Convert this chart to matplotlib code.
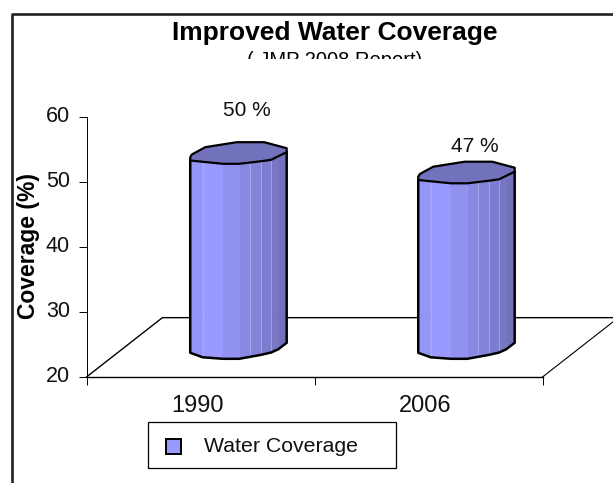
"""Improved water coverage, 1990 vs 2006, drawn as a faux-3D cylinder bar chart."""

import matplotlib
matplotlib.use("Agg")
import matplotlib.pyplot as plt
import numpy as np
from matplotlib.patches import Polygon, Rectangle
from matplotlib.transforms import Bbox, ScaledTranslation

plt.rcParams["font.family"] = ["Liberation Sans", "DejaVu Sans"]

years = ["1990", "2006"]
coverage = [50, 47]
yticks = [20, 30, 40, 50, 60]
label_lift = [11.0, 8.5]

# cylinder facets: edge position across the bar, and how far the top and
# bottom rims sit above the lowest rim point (pixels)
PX_PER_UNIT = 6.5
facet_edges = [0, .13, .34, .508, .622, .736, .839, .912, 1]
top_rim = [3.3, 2, 0, 0, 1.3, 2.6, 4, 7.5, 11.6]
bottom_rim = [6, 1.5, 0, 0, 2, 4, 6.3, 9.5, 16]
facet_colors = ["#9595F6", "#9999FF", "#9191F0", "#8989E3",
                "#8383D9", "#7D7DCF", "#7777C6", "#7171BC"]
highlight_edges = [1, 4, 5, 6]

cap_x = [0, 0, .017, .155, .482, .767, 1, 1]
cap_y = [3.3, 6.6, 9.3, 16.6, 21.6, 21.6, 15.6, 11.6]
CAP_COLOR = "#7272BC"
BAR_WIDTH = 0.423
DEPTH_X = 0.333
DEPTH_Y = 9.13
FRONT_LIFT = 2.8

fig = plt.figure(figsize=(6.13, 4.83), dpi=100)
W, H = 613, 483
ax = fig.add_axes([86.5 / W, (H - 377) / H, 456 / W, 260 / H])
ax.patch.set_visible(False)
ax.set_xlim(0, 2)
ax.set_ylim(20, 60)

# outer frame, open on the right and at the bottom
fig.add_artist(plt.Line2D([11.5 / W, 11.5 / W, 1], [0, (H - 13.5) / H, (H - 13.5) / H],
                          color="#222222", lw=1.9))

# floor of the plot
ax.plot([0, DEPTH_X, 2 + DEPTH_X], [20, 20 + DEPTH_Y, 20 + DEPTH_Y],
        color="black", lw=1.0, clip_on=False, zorder=1)
ax.plot([2, 2 + DEPTH_X], [20, 20 + DEPTH_Y], color="black", lw=0.8, clip_on=False, zorder=1)

for i, value in enumerate(coverage):
    left = i + 0.5 + DEPTH_X / 2 - BAR_WIDTH / 2
    xs = left + np.array(facet_edges) * BAR_WIDTH
    ys_top = value + FRONT_LIFT + np.array(top_rim) / PX_PER_UNIT
    ys_bottom = 20 + FRONT_LIFT + np.array(bottom_rim) / PX_PER_UNIT

    for k, color in enumerate(facet_colors):
        ax.add_patch(Polygon([(xs[k], ys_bottom[k]), (xs[k + 1], ys_bottom[k + 1]),
                              (xs[k + 1], ys_top[k + 1]), (xs[k], ys_top[k])],
                             closed=True, facecolor=color, edgecolor=color, lw=0.3,
                             clip_on=False, zorder=2))
    for k in highlight_edges:
        ax.plot([xs[k], xs[k]], [ys_bottom[k], ys_top[k]], color="#B0B0F0", lw=0.5,
                clip_on=False, zorder=2.5)

    # outline of the body, then the lid on top of it
    ax.plot(np.r_[xs[0], xs, xs[-1]],
            np.r_[ys_top[0], ys_bottom, ys_top[-1]],
            color="black", lw=1.8, clip_on=False, zorder=3, solid_joinstyle="round")
    cap = np.column_stack([left + np.array(cap_x) * BAR_WIDTH,
                           value + FRONT_LIFT + np.array(cap_y) / PX_PER_UNIT])
    rim = np.column_stack([xs, ys_top])[::-1]
    ax.add_patch(Polygon(np.vstack([cap, rim]), closed=True, facecolor=CAP_COLOR,
                         edgecolor="black", lw=1.6, clip_on=False, zorder=4,
                         joinstyle="round"))

    ax.text(i + 0.5 + DEPTH_X / 2 + 0.035, value + label_lift[i], f"{value} %",
            ha="center", va="center", fontsize=15, color="#111111")
    ax.text(i + 0.485, -0.07, years[i], ha="center", va="top", fontsize=17,
            color="#111111", transform=ax.get_xaxis_transform(), clip_on=False)

ax.spines[["top", "right"]].set_visible(False)
ax.spines["left"].set_linewidth(0.7)
ax.spines["bottom"].set_linewidth(1.0)
ax.set_yticks(yticks)
ax.set_xticks([0, 1, 2])
ax.set_xticklabels([])
ax.tick_params(axis="y", length=6, width=0.7, pad=6, labelsize=15.5, labelcolor="#111111")
ax.tick_params(axis="x", length=6, width=0.7)

# y tick labels sit slightly above their ticks
nudge = ScaledTranslation(0, 2 / 72, fig.dpi_scale_trans)
for tick_label in ax.get_yticklabels():
    tick_label.set_transform(tick_label.get_transform() + nudge)

fig.text(28.5 / W, 1 - 246 / H, "Coverage (%)", rotation=90, ha="center", va="center",
         fontsize=16.5, fontweight="bold")
fig.text(335 / W, 1 - 33 / H, "Improved Water Coverage", ha="center", va="center",
         fontsize=19, fontweight="bold")

# the subtitle is cut off by the title box just below its x-height
sub = fig.text(335 / W, 1 - 61 / H, "( JMP 2008 Report)", ha="center", va="center",
               fontsize=14.5)
sub.set_clip_box(Bbox([[0, H - 59], [W, H]]))
sub.set_clip_on(True)

# legend
fig.add_artist(Rectangle((148 / W, 1 - 467.5 / H), 247.5 / W, 46 / H, transform=fig.transFigure,
                         facecolor="white", edgecolor="black", lw=0.9))
fig.add_artist(Rectangle((166 / W, 1 - 454 / H), 15 / W, 15 / H, transform=fig.transFigure,
                         facecolor="#9999FF", edgecolor="black", lw=1.4))
fig.text(204 / W, 1 - 446 / H, "Water Coverage", ha="left", va="center", fontsize=15.3,
         color="#111111")

fig.savefig("out.png", dpi=100)
